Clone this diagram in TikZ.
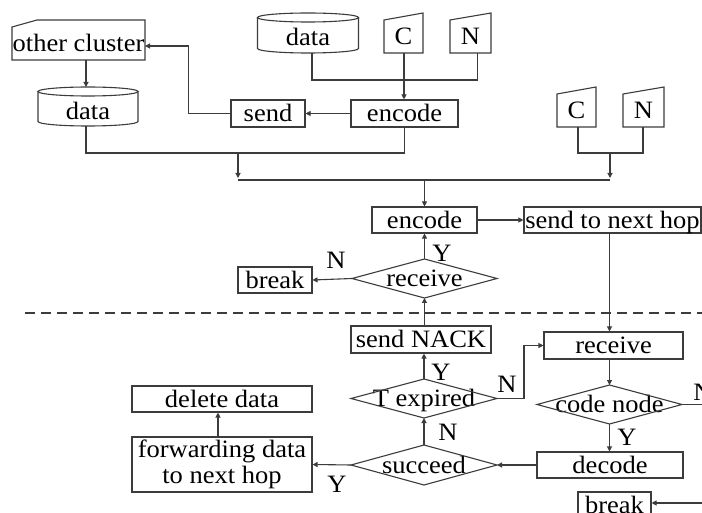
\documentclass[tikz,border=0pt]{standalone}
\usepackage{fontspec}
\setmainfont{Liberation Serif}[FakeStretch=1.06]
\usetikzlibrary{arrows.meta}
\definecolor{ln}{HTML}{3C3C3C}
\begin{document}
\begin{tikzpicture}[x=1pt,y=-1pt,
  every node/.style={font=\fontsize{25}{26.5}\selectfont, inner sep=0pt, text=black},
  onel/.style={text height=19.1pt, text depth=2.5pt},
  box/.style={draw=ln, line width=1.1pt, onel},
  box2/.style={draw=ln, line width=1.1pt, align=center},
  frame/.style={outer sep=0pt, onel},
  shp/.style={draw=ln, line width=1.1pt},
  ln/.style={draw=ln, line width=1.1pt},
  arr/.style={draw=ln, line width=1.1pt, -{Triangle[length=5pt,width=5pt]}},
  lbl/.style={}
]
\useasboundingbox (0,0) rectangle (702,513);
\clip (0,0) rectangle (702,513);
\fill[white] (0,0) rectangle (702,513);

% ---------- top part ----------
\node[frame, minimum width=133pt, minimum height=33pt] (other) at (78.5,43.5) {other cluster};
\draw[shp] (other.south west) -- (other.north west) -- ([xshift=25pt,yshift=7pt]other.north west)
  -- ([yshift=7pt]other.north east) -- (other.south east) -- cycle;

\node[frame, minimum width=100pt, minimum height=30pt] (dataL) at (88,111) {data};
\draw[shp] ([yshift=4.5pt]dataL.north west) -- ([yshift=4.5pt]dataL.south west)
  arc[start angle=180,end angle=360,x radius=50pt,y radius=4.5pt] -- ([yshift=4.5pt]dataL.north east);
\draw[shp] ([yshift=4.5pt]dataL.north) ellipse [x radius=50pt, y radius=4.5pt];
\coordinate (dLtop) at ([xshift=-2pt,yshift=9pt]dataL.north);

\node[frame, minimum width=101pt, minimum height=31pt] (dataT) at (308,37.5) {data};
\draw[shp] ([yshift=4.5pt]dataT.north west) -- ([yshift=4.5pt]dataT.south west)
  arc[start angle=180,end angle=360,x radius=50.5pt,y radius=4.5pt] -- ([yshift=4.5pt]dataT.north east);
\draw[shp] ([yshift=4.5pt]dataT.north) ellipse [x radius=50.5pt, y radius=4.5pt];

\node[frame, minimum width=39pt, minimum height=33pt] (C1) at (403.5,36.5) {C};
\draw[shp] (C1.south west) -- (C1.north west) -- ([yshift=7pt]C1.north east) -- (C1.south east) -- cycle;
\node[frame, minimum width=41pt, minimum height=33pt] (N1) at (470.5,36.5) {N};
\draw[shp] (N1.south west) -- (N1.north west) -- ([yshift=7pt]N1.north east) -- (N1.south east) -- cycle;

\node[frame, minimum width=39pt, minimum height=33pt] (C2) at (576.5,110.5) {C};
\draw[shp] (C2.south west) -- (C2.north west) -- ([yshift=7pt]C2.north east) -- (C2.south east) -- cycle;
\node[frame, minimum width=41pt, minimum height=33pt] (N2) at (643.5,110.5) {N};
\draw[shp] (N2.south west) -- (N2.north west) -- ([yshift=7pt]N2.north east) -- (N2.south east) -- cycle;

\node[box, minimum width=74pt, minimum height=27pt] (send) at (268,113.5) {send};
\node[box, minimum width=107pt, minimum height=27pt] (enc1) at (404.5,113.5) {encode};

\node[box, minimum width=105pt, minimum height=26pt] (enc2) at (424.5,220) {encode};
\node[box, minimum width=177pt, minimum height=26pt] (hop) at (612.5,220) {send to next hop};
\node[frame, minimum width=145pt, minimum height=39pt] (rcv) at (424.5,278.5) {receive};
\draw[shp] (rcv.north) -- (rcv.east) -- (rcv.south) -- (rcv.west) -- cycle;
\node[box, minimum width=74pt, minimum height=26pt] (brk1) at (275,280) {break};

% ---------- bottom part ----------
\node[box, minimum width=140pt, minimum height=27pt] (nack) at (421,339.5) {send NACK};
\node[frame, minimum width=146pt, minimum height=39pt] (texp) at (424,398.5) {T expired};
\draw[shp] (texp.north) -- (texp.east) -- (texp.south) -- (texp.west) -- cycle;
\node[frame, minimum width=146pt, minimum height=40pt] (succ) at (424,465) {succeed};
\draw[shp] (succ.north) -- (succ.east) -- (succ.south) -- (succ.west) -- cycle;
\node[box, minimum width=180pt, minimum height=26pt] (del) at (222,399) {delete data};
\node[box2, minimum width=180pt, minimum height=55pt] (fwd) at (222,464.5) {forwarding data\\to next hop};

\node[box, minimum width=139pt, minimum height=27pt] (rcv2) at (613.5,345.5) {receive};
\node[frame, minimum width=145pt, minimum height=39pt] (code) at (609.5,404.5) {code node};
\draw[shp] (code.north) -- (code.east) -- (code.south) -- (code.west) -- cycle;
\node[box, minimum width=146pt, minimum height=26pt] (dec) at (610,465) {decode};
\node[box, minimum width=73pt, minimum height=26pt] (brk2) at (614.5,505) {break};

% ---------- connectors ----------
\coordinate (j1) at (404,80);
\coordinate (j2) at (238,153);
\coordinate (j3) at (238,180);
\coordinate (j4) at (610,180);
\coordinate (j5) at (610,153);

\draw[arr] (other.south -| dLtop) -- (dLtop);
\draw[arr] (enc1.west) -- (send.east);
\draw[arr] (send.west) -- ++(-42,0) |- ([yshift=-2.5pt]other.east);
\draw[ln] ([xshift=4pt]dataT.south) |- (j1);
\draw[ln] ([xshift=7pt]N1.south) |- (j1);
\draw[arr] (C1.south -| j1) -- (enc1.north -| j1);
\draw[ln] (enc1.south) -- (enc1.south |- j2) -- (dLtop |- j2) -- (dLtop |- dataL.south);
\draw[arr] (j2) -- ([yshift=2pt]j3);
\draw[ln] ([xshift=1.5pt]C2.south) -- ([xshift=1.5pt]C2.south |- j5) -| ([xshift=-0.5pt]N2.south);
\draw[arr] (j5) -- ([yshift=2pt]j4);
\draw[ln] (j3) -- (j4);
\draw[arr] (j3 -| enc2.north) -- (enc2.north);
\draw[arr] (enc2.east) -- (hop.west);
\draw[arr] (rcv.north) -- (enc2.south -| rcv.north);
\draw[arr] (rcv.west) -- (brk1.east);
\draw[arr] (nack.north -| rcv.south) -- (rcv.south);
\draw[arr] (hop.south -| code.north) -- (rcv2.north -| code.north);

\draw[ln, dash pattern=on 10pt off 6pt] (25,313) -- (702,313);

\draw[arr] (texp.north) -- (nack.south -| texp.north);
\draw[arr] (texp.east) -- ++(27,0) |- (rcv2.west);
\draw[arr] (rcv2.south -| code.north) -- (code.north);
\draw[ln] (code.east) -- ++(30,0);
\draw[arr] (code.south) -- (code.south |- dec.north);
\draw[arr] (dec.west) -- (succ.east);
\draw[arr] (succ.north) -- (texp.south);
\draw[arr] (succ.west) -- (fwd.east);
\draw[arr] ([xshift=-4pt]fwd.north) -- ([xshift=-4pt]del.south);
\draw[arr] ([xshift=100pt,yshift=2pt]brk2.east) -- ([yshift=2pt]brk2.east);

% ---------- labels ----------
\node[lbl] (lY1) at (442,253) {Y};
\node[lbl] (lN1) at (336,260) {N};
\node[lbl] (lY2) at (441,372) {Y};
\node[lbl] (lN2) at (507,384) {N};
\node[lbl] (lN3) at (448,432) {N};
\node[lbl] (lY3) at (337,484) {Y};
\node[lbl] (lN4) at (703,392) {N};
\node[lbl] (lY4) at (627,437) {Y};
\end{tikzpicture}
\end{document}
